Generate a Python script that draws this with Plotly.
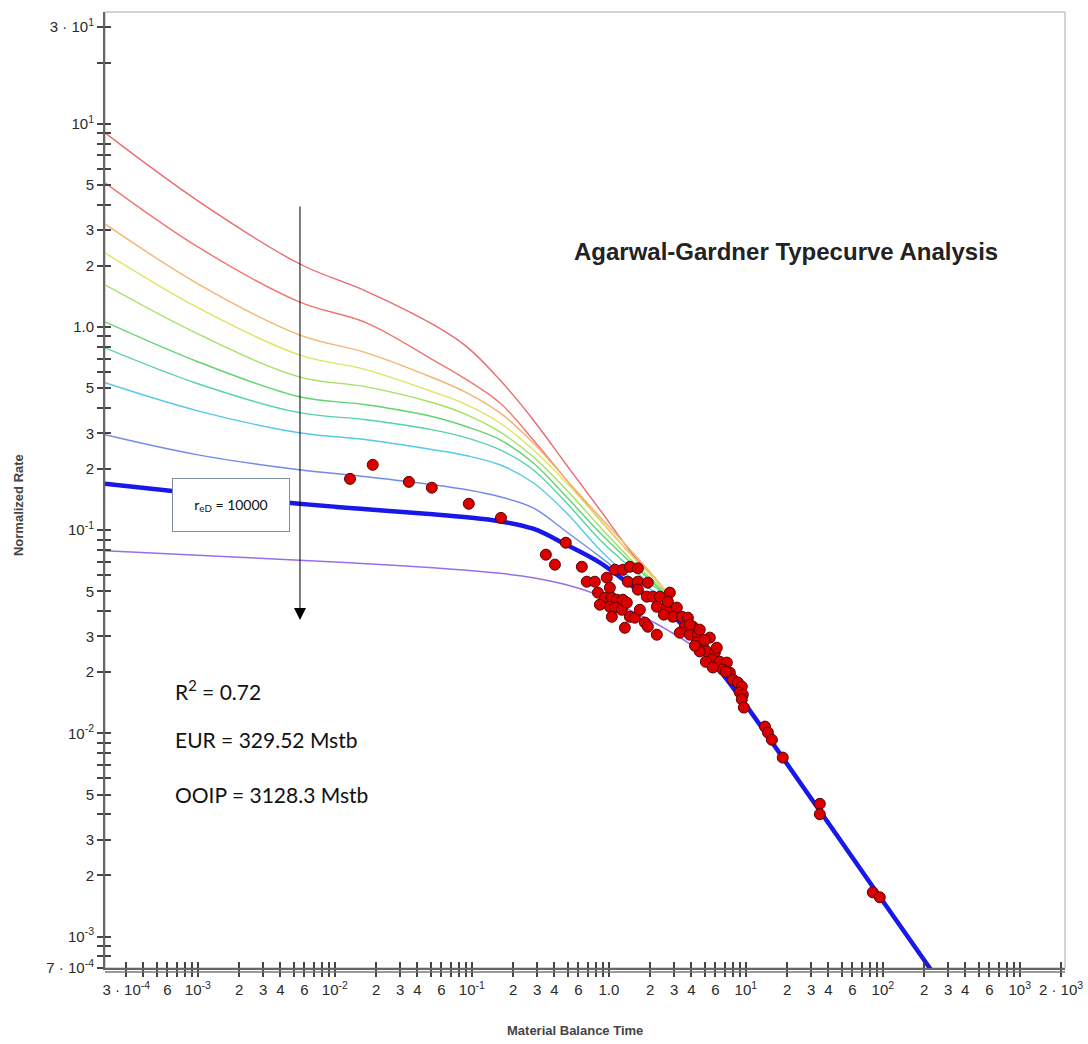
import plotly.graph_objects as go

# ---------------- data ----------------
# material balance time grid for the type curves (early part)
t_early = [2.1e-4, 1.0e-3, 5.5e-3, 0.017, 0.052, 0.092, 0.16, 0.28, 0.49, 0.86, 1.5, 2.65]
# late-time (boundary dominated) common line
t_late = [4.6, 9.0, 25.0, 95.0, 220.0, 300.0]
q_late = [0.0273, 0.0152, 0.0057, 0.00157, 0.0007, 0.00052]

# type curves, top to bottom
q_c1 = [9.03, 4.18, 2.05, 1.50, 1.03, 0.799, 0.550, 0.350, 0.210, 0.1262, 0.0758, 0.0493]
q_c2 = [5.13, 2.48, 1.331, 1.049, 0.690, 0.550, 0.424, 0.279, 0.177, 0.1126, 0.0741, 0.0493]
q_c3 = [3.22, 1.633, 0.916, 0.747, 0.563, 0.475, 0.379, 0.2695, 0.177, 0.1165, 0.0775, 0.0493]
q_c4 = [2.32, 1.245, 0.730, 0.616, 0.480, 0.4145, 0.338, 0.249, 0.1713, 0.1126, 0.0741, 0.0493]
q_c5 = [1.614, 0.926, 0.569, 0.508, 0.424, 0.370, 0.305, 0.230, 0.1582, 0.1040, 0.0700, 0.0482]
q_c6 = [1.061, 0.675, 0.454, 0.4145, 0.362, 0.323, 0.279, 0.215, 0.1462, 0.0972, 0.0677, 0.0471]
q_c7 = [0.790, 0.526, 0.379, 0.350, 0.312, 0.285, 0.249, 0.1985, 0.1365, 0.0898, 0.0639, 0.0465]
q_c8 = [0.532, 0.387, 0.302, 0.279, 0.249, 0.2326, 0.210, 0.1713, 0.1220, 0.0802, 0.0571, 0.0455]
q_c9 = [0.295, 0.235, 0.1985, 0.1833, 0.1675, 0.1582, 0.1462, 0.1290, 0.0983, 0.0741, 0.0552, 0.0406]
q_fit = [0.1694, 0.1512, 0.1350, 0.1269, 0.1199, 0.1159, 0.1107, 0.1017, 0.0848, 0.0692, 0.0527, 0.0406]
q_c11 = [0.0793, 0.0753, 0.0712, 0.0684, 0.0654, 0.0635, 0.0614, 0.0584, 0.0539, 0.0476, 0.0397, 0.0324]
q_c11_late = [0.0253, 0.0150, 0.0057, 0.00157, 0.0007, 0.00052]

curve_colors = ["rgb(236,104,112)", "rgb(240,118,108)", "rgb(244,180,110)", "rgb(222,228,96)",
                "rgb(160,226,96)", "rgb(96,212,112)", "rgb(84,212,166)", "rgb(86,200,232)",
                "rgb(112,140,232)"]

# measured data (material balance time, normalized rate)
t_data = [0.0129, 0.0189, 0.0347, 0.051, 0.095, 0.163, 0.485, 0.347, 0.404, 0.635,
          0.69, 0.79, 0.966, 0.832, 0.935, 1.017, 1.052, 1.143, 1.265, 1.017,
          1.107, 1.244, 1.353, 1.052, 1.424, 1.548, 1.683, 1.832, 1.927, 2.24,
          1.107, 1.265, 1.424, 1.629, 1.376, 1.629, 1.927, 1.629, 1.893, 2.095,
          2.357, 2.24, 2.65, 2.788, 2.697, 3.135, 2.933, 3.412, 3.775, 3.589,
          4.103, 3.297, 3.902, 4.467, 4.387, 4.853, 5.458, 5.19, 5.943, 6.138,
          5.649, 6.457, 7.267, 6.792, 7.644, 8.04, 8.75, 9.35, 9.036, 9.51,
          9.35, 9.67, 13.8, 14.5, 15.5, 18.6, 34.7, 34.7, 84.5, 95.0,
          4.61, 5.11, 5.74, 4.25, 7.14, 3.90, 4.61, 5.0, 2.52, 0.86, 1.309]
q_data = [0.179, 0.210, 0.173, 0.162, 0.135, 0.115, 0.0868, 0.0758, 0.0677, 0.0661,
          0.0558, 0.0558, 0.0584, 0.0493, 0.0465, 0.0521, 0.0465, 0.0455, 0.0455, 0.0420,
          0.0416, 0.0406, 0.0440, 0.0375, 0.0375, 0.0371, 0.0406, 0.0351, 0.0335, 0.0306,
          0.0639, 0.0639, 0.0661, 0.0650, 0.0558, 0.0558, 0.0552, 0.0510, 0.0471, 0.0471,
          0.0471, 0.0420, 0.0416, 0.0493, 0.0445, 0.0416, 0.0375, 0.0375, 0.0371, 0.0335,
          0.0335, 0.0313, 0.0306, 0.0306, 0.0280, 0.0273, 0.0296, 0.0253, 0.0250, 0.0264,
          0.0231, 0.0225, 0.0223, 0.0206, 0.0199, 0.0184, 0.0178, 0.0170, 0.0159, 0.0155,
          0.0147, 0.0134, 0.0108, 0.0101, 0.0093, 0.0076, 0.0045, 0.0040, 0.00165, 0.00156,
          0.0253, 0.0225, 0.0211, 0.0270, 0.0201, 0.0343, 0.0324, 0.0289, 0.0384, 0.0430, 0.0331]

# tick values and labels
y_tickvals = [30, 20, 10, 9, 8, 7, 6, 5, 4, 3, 2, 1, 0.9, 0.8, 0.7, 0.6, 0.5, 0.4, 0.3, 0.2,
              0.1, 0.09, 0.08, 0.07, 0.06, 0.05, 0.04, 0.03, 0.02,
              0.01, 0.009, 0.008, 0.007, 0.006, 0.005, 0.004, 0.003, 0.002,
              0.001, 0.0009, 0.0008, 0.0007]
y_ticktext = ["3 · 10<sup>1</sup>", "", "10<sup>1</sup>", "", "", "", "", "5", "", "3", "2",
              "1.0", "", "", "", "", "5", "", "3", "2",
              "10<sup>-1</sup>", "", "", "", "", "5", "", "3", "2",
              "10<sup>-2</sup>", "", "", "", "", "5", "", "3", "2",
              "10<sup>-3</sup>", "", "", "7 · 10<sup>-4</sup>"]

x_tickvals = [3e-4, 4e-4, 5e-4, 6e-4, 7e-4, 8e-4, 9e-4,
              1e-3, 2e-3, 3e-3, 4e-3, 5e-3, 6e-3, 7e-3, 8e-3, 9e-3,
              1e-2, 2e-2, 3e-2, 4e-2, 5e-2, 6e-2, 7e-2, 8e-2, 9e-2,
              0.1, 0.2, 0.3, 0.4, 0.5, 0.6, 0.7, 0.8, 0.9,
              1, 2, 3, 4, 5, 6, 7, 8, 9,
              10, 20, 30, 40, 50, 60, 70, 80, 90,
              100, 200, 300, 400, 500, 600, 700, 800, 900,
              1000, 2000]
x_ticktext = ["3 · 10<sup>-4</sup>", "", "", "6", "", "", "",
              "10<sup>-3</sup>", "2", "3", "4", "", "6", "", "", "",
              "10<sup>-2</sup>", "2", "3", "4", "", "6", "", "", "",
              "10<sup>-1</sup>", "2", "3", "4", "", "6", "", "", "",
              "1.0", "2", "3", "4", "", "6", "", "", "",
              "10<sup>1</sup>", "2", "3", "4", "", "6", "", "", "",
              "10<sup>2</sup>", "2", "3", "4", "", "6", "", "", "",
              "10<sup>3</sup>", "2 · 10<sup>3</sup>"]

# ---------------- figure ----------------
fig = go.Figure()
t_all = t_early + t_late
spl = dict(shape="spline", smoothing=1.0)
for q, c in zip([q_c1, q_c2, q_c3, q_c4, q_c5, q_c6, q_c7, q_c8, q_c9], curve_colors):
    fig.add_trace(go.Scatter(x=t_all, y=q + q_late, mode="lines",
                             line=dict(color=c, width=1.4, **spl), hoverinfo="skip"))
fig.add_trace(go.Scatter(x=t_all, y=q_c11 + q_c11_late, mode="lines",
                         line=dict(color="rgb(150,112,232)", width=1.6, **spl)))
fig.add_trace(go.Scatter(x=t_all, y=q_fit + q_late, mode="lines",
                         line=dict(color="rgb(24,24,232)", width=4.5, **spl)))
fig.add_trace(go.Scatter(x=t_data, y=q_data, mode="markers",
                         marker=dict(size=11, color="rgb(218,0,0)",
                                     line=dict(color="rgb(90,0,0)", width=1))))
# overlay axes so that ticks cross the axis lines
fig.add_trace(go.Scatter(x=[], y=[], xaxis="x2", yaxis="y2", showlegend=False))

tickfont = dict(family="Liberation Sans, Arial, sans-serif", size=15, color="#2a2a2a")
xr = [-3.678, 3.33]
yr = [-3.155, 1.551]
common_x = dict(type="log", range=xr, tickmode="array", tickvals=x_tickvals,
                showgrid=False, zeroline=False, automargin=False)
common_y = dict(type="log", range=yr, tickmode="array", tickvals=y_tickvals,
                showgrid=False, zeroline=False, automargin=False)
fig.update_layout(
    width=1088, height=1044,
    margin=dict(l=105, r=23, t=12, b=76),
    paper_bgcolor="white", plot_bgcolor="white",
    showlegend=False,
    xaxis=dict(**common_x, ticktext=x_ticktext, ticks="outside", ticklen=7, tickwidth=1.5,
               tickcolor="#444", showline=True, linecolor="#666", linewidth=2,
               tickfont=tickfont),
    yaxis=dict(**common_y, ticktext=y_ticktext, ticks="outside", ticklen=6, tickwidth=1.5,
               tickcolor="#444", showline=True, linecolor="#666", linewidth=2,
               tickfont=tickfont),
    xaxis2=dict(**common_x, overlaying="x", matches="x", ticks="inside", ticklen=6,
                tickwidth=1.5, tickcolor="#444", showticklabels=False, showline=False),
    yaxis2=dict(**common_y, overlaying="y", matches="y", ticks="inside", ticklen=6,
                tickwidth=1.5, tickcolor="#444", showticklabels=False, showline=False),
    shapes=[dict(type="rect", xref="paper", yref="paper", x0=0, x1=1, y0=0, y1=1,
                 line=dict(color="#a8a8a8", width=1), layer="below"),
            dict(type="line", xref="paper", yref="paper", x0=0, x1=1,
                 ysizemode="pixel", yanchor=0, y0=-4, y1=-4,
                 line=dict(color="#777", width=1.5))],
)

txtfont = dict(family="Lato, Liberation Sans, sans-serif", size=21, color="#111")
ann = [
    dict(text="<b>Agarwal-Gardner Typecurve Analysis</b>", xref="paper", yref="paper",
         x=0.4865, y=0.749, xanchor="left", yanchor="middle", showarrow=False,
         font=dict(family="Liberation Sans, Arial, sans-serif", size=24, color="#222")),
    dict(text="<b>Normalized Rate</b>", xref="paper", yref="paper", x=-0.0906, y=0.4843,
         xanchor="center", yanchor="middle", textangle=-90, showarrow=False,
         font=dict(family="Liberation Sans, Arial, sans-serif", size=13, color="#444")),
    dict(text="<b>Material Balance Time</b>", xref="paper", yref="paper", x=0.4896, y=-0.0649,
         xanchor="center", yanchor="middle", showarrow=False,
         font=dict(family="Liberation Sans, Arial, sans-serif", size=13, color="#444")),
    dict(text="r<sub>eD</sub> = 10000", xref="paper", yref="paper", x=0.0698, y=0.5126,
         xanchor="left", yanchor="top", showarrow=False, align="center", valign="middle",
         width=110, height=46, borderpad=3, bordercolor="#7d8ea8", borderwidth=1,
         bgcolor="white", font=dict(family="Lato, Liberation Sans, sans-serif", size=14, color="#111")),
    dict(text="", xref="paper", yref="paper", x=0.2031, y=0.364, ax=0, ay=-415,
         showarrow=True, arrowhead=2, arrowsize=2.4, arrowwidth=1, arrowcolor="black",
         standoff=0),
    dict(text="R<sup>2</sup> = 0.72", xref="paper", yref="paper", x=0.0705, y=0.2908,
         xanchor="left", yanchor="middle", showarrow=False, font=txtfont),
    dict(text="EUR = 329.52 Mstb", xref="paper", yref="paper", x=0.0705, y=0.2385,
         xanchor="left", yanchor="middle", showarrow=False, font=txtfont),
    dict(text="OOIP = 3128.3 Mstb", xref="paper", yref="paper", x=0.0705, y=0.181,
         xanchor="left", yanchor="middle", showarrow=False, font=txtfont),
]
fig.update_layout(annotations=ann)

fig.write_html("out.html")
